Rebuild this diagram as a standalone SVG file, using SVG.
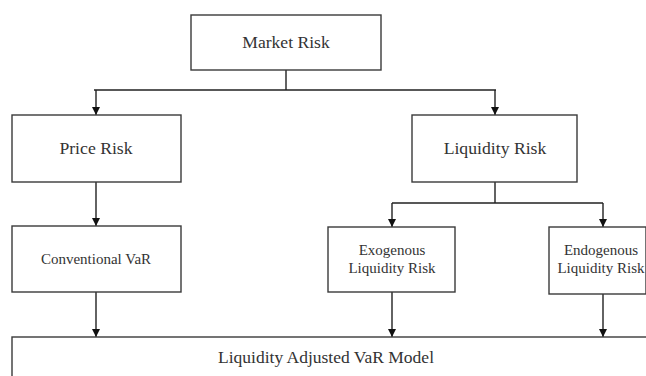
<svg xmlns="http://www.w3.org/2000/svg" width="646" height="376" viewBox="0 0 646 376">
<style>
.b{fill:#fff;stroke:#3a3a3a;stroke-width:1.4}
.c{fill:none;stroke:#222;stroke-width:1.4}
text{font-family:"Liberation Serif","Times New Roman",serif;fill:#333;text-anchor:middle}
</style>
<defs>
<marker id="a" viewBox="0 0 10 10" refX="10" refY="5" markerWidth="8" markerHeight="8" markerUnits="userSpaceOnUse" orient="auto">
<path d="M0,0 L10,5 L0,10 z" fill="#111"/>
</marker>
</defs>
<rect width="646" height="376" fill="#fff"/>
<g id="connectors">
<path class="c" d="M286,70 V90 M94,90 H496"/>
<path class="c" d="M96,90 V115" marker-end="url(#a)"/>
<path class="c" d="M495,90 V115" marker-end="url(#a)"/>
<path class="c" d="M96,182 V226" marker-end="url(#a)"/>
<path class="c" d="M495,182 V203 M392,203 H603"/>
<path class="c" d="M392,203 V227" marker-end="url(#a)"/>
<path class="c" d="M603,203 V227" marker-end="url(#a)"/>
<path class="c" d="M96,292 V337" marker-end="url(#a)"/>
<path class="c" d="M392,292 V337" marker-end="url(#a)"/>
<path class="c" d="M603,294 V337" marker-end="url(#a)"/>
</g>
<g id="market"><rect class="b" x="191" y="15" width="190" height="55"/><text x="286" y="48" font-size="17.6">Market Risk</text></g>
<g id="price"><rect class="b" x="12" y="115" width="169" height="67"/><text x="96" y="154" font-size="17.7">Price Risk</text></g>
<g id="liquidity"><rect class="b" x="412" y="115" width="165" height="67"/><text x="495" y="154" font-size="17.7">Liquidity Risk</text></g>
<g id="conventional"><rect class="b" x="12" y="226" width="169" height="66"/><text x="96" y="264" font-size="15">Conventional VaR</text></g>
<g id="exogenous"><rect class="b" x="328" y="227" width="127" height="65"/><text x="392" y="255" font-size="15">Exogenous</text><text x="392" y="273" font-size="15">Liquidity Risk</text></g>
<g id="endogenous"><rect class="b" x="549" y="227" width="97" height="67"/><text x="601" y="255" font-size="15">Endogenous</text><text x="601" y="273" font-size="15">Liquidity Risk</text></g>
<g id="lavar"><rect class="b" x="12" y="337" width="640" height="50"/><text x="326" y="363" font-size="17.5">Liquidity Adjusted VaR Model</text></g>
</svg>
